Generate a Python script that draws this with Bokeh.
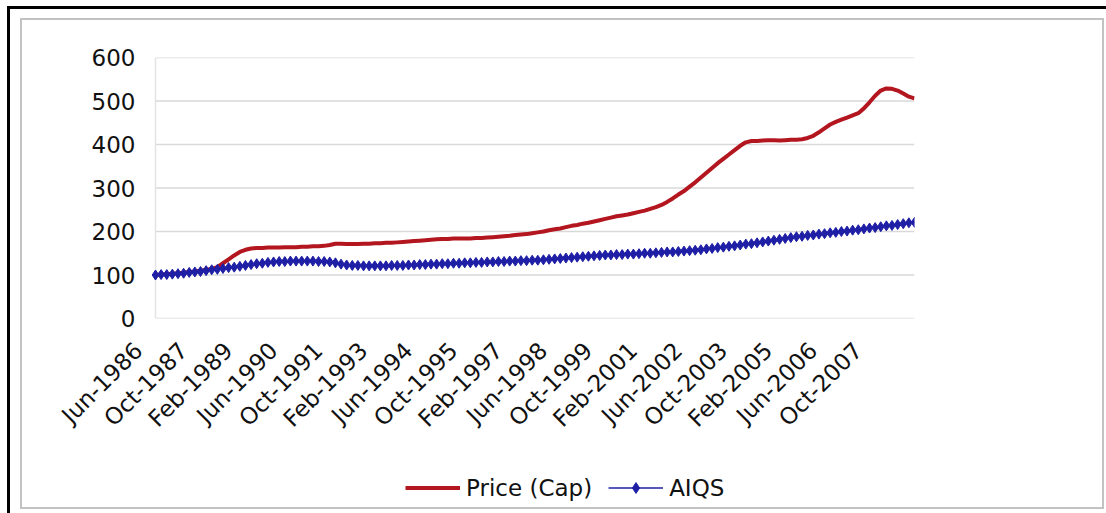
import math

from bokeh.embed import file_html
from bokeh.layouts import column
from bokeh.models import FixedTicker, Legend, LegendItem, LinearAxis, Range1d
from bokeh.plotting import figure
from bokeh.resources import INLINE

# Bi-monthly index values, Jun-1986 = 100, through Dec-2008
tick_labels = ["Jun-1986", "Oct-1987", "Feb-1989", "Jun-1990", "Oct-1991",
               "Feb-1993", "Jun-1994", "Oct-1995", "Feb-1997", "Jun-1998",
               "Oct-1999", "Feb-2001", "Jun-2002", "Oct-2003", "Feb-2005",
               "Jun-2006", "Oct-2007"]
label_every = 8  # one label per 16 months

price_cap = [
    100, 101, 102, 103, 104, 105, 107, 108, 110, 112,
    114, 118, 127, 136, 145, 153, 158, 161, 162, 162,
    163, 163, 163, 164, 164, 164, 165, 165, 166, 166,
    167, 169, 172, 172, 171, 171, 171, 172, 172, 173,
    173, 174, 174, 175, 176, 177, 178, 179, 180, 181,
    182, 183, 183, 184, 184, 184, 184, 185, 185, 186,
    187, 188, 189, 190, 192, 193, 194, 196, 198, 200,
    203, 205, 207, 210, 213, 215, 218, 220, 223, 226,
    229, 232, 235, 237, 239, 242, 245, 248, 252, 256,
    261, 268, 276, 285, 293, 303, 313, 324, 335, 346,
    357, 367, 377, 387, 397, 405, 408, 408, 409, 410,
    410, 409, 410, 411, 411, 412, 415, 420, 428, 437,
    446, 452, 457, 462, 467, 472, 483, 497, 512, 524,
    529, 528, 524, 517, 510, 506,
]

aiqs = [
    100, 101, 101, 102, 103, 104, 106, 107, 108, 110,
    112, 113, 115, 117, 118, 120, 122, 124, 126, 127,
    129, 130, 131, 131, 132, 132, 132, 132, 132, 131,
    131, 130, 128, 125, 123, 122, 122, 121, 121, 121,
    121, 121, 122, 122, 122, 123, 123, 124, 124, 125,
    125, 126, 126, 127, 127, 128, 128, 129, 129, 130,
    130, 131, 131, 132, 132, 133, 133, 134, 134, 135,
    136, 137, 138, 139, 140, 141, 142, 143, 144, 145,
    146, 146, 147, 147, 148, 148, 149, 150, 150, 151,
    152, 153, 153, 154, 155, 156, 157, 158, 160, 161,
    163, 164, 166, 167, 169, 171, 172, 174, 176, 178,
    180, 182, 184, 186, 188, 189, 191, 192, 194, 195,
    197, 198, 200, 201, 203, 204, 206, 208, 209, 211,
    213, 214, 216, 218, 220, 221,
]

y_ticks = [0, 100, 200, 300, 400, 500, 600]

RED = "#b3161f"
BLUE = "#1f1fa6"
GRID = "#d9d9d9"
TEXT = "#111111"
FONT = "DejaVu Sans"
FONT_SIZE = "23px"

periods = list(range(len(price_cap)))
last = periods[-1]

# plot-area geometry (px); the frame starts a little left of the first
# period so the rotated category labels can end short of their period
DATA_LEFT, FRAME_RIGHT, FRAME_TOP, FRAME_BOTTOM = 155, 914, 57, 318
LABEL_SHIFT = 17
FRAME_LEFT = DATA_LEFT - LABEL_SHIFT
VALUE_LABEL_RIGHT = 135
CHART_W, CHART_H, LEGEND_H = 1106, 458, 55
LEGEND_LEFT = 405

px_per_period = (FRAME_RIGHT - DATA_LEFT) / last
lead = LABEL_SHIFT / px_per_period

p = figure(
    width=CHART_W, height=CHART_H,
    x_range=Range1d(-lead, last), y_range=Range1d(y_ticks[0], y_ticks[-1]),
    x_axis_location=None,
    min_border_left=FRAME_LEFT, min_border_right=CHART_W - FRAME_RIGHT,
    min_border_top=FRAME_TOP, min_border_bottom=CHART_H - FRAME_BOTTOM,
    background_fill_color="white", border_fill_color=None,
    outline_line_color=None,
    output_backend="svg", toolbar_location=None,
)

p.extra_x_ranges = {"labels": Range1d(0, last + lead)}
xaxis = LinearAxis(
    x_range_name="labels",
    ticker=FixedTicker(ticks=[i * label_every for i in range(len(tick_labels))]),
    major_label_overrides={i * label_every: t for i, t in enumerate(tick_labels)},
    major_label_orientation=math.pi / 4,
    axis_line_color=None, major_tick_line_color=None, minor_tick_line_color=None,
    major_tick_out=0, major_tick_in=0,
    major_label_text_font=FONT, major_label_text_font_size=FONT_SIZE,
    major_label_text_color=TEXT, major_label_standoff=28,
)
p.add_layout(xaxis, "below")

p.yaxis.ticker = FixedTicker(ticks=y_ticks)
p.yaxis.axis_line_color = None
p.yaxis.major_tick_line_color = None
p.yaxis.major_tick_out = 0
p.yaxis.major_tick_in = 0
p.yaxis.minor_tick_line_color = None
p.yaxis.major_label_standoff = FRAME_LEFT - VALUE_LABEL_RIGHT
p.yaxis.major_label_text_font = FONT
p.yaxis.major_label_text_font_size = FONT_SIZE
p.yaxis.major_label_text_color = TEXT

# horizontal gridlines and the value axis line span the periods only
p.xgrid.visible = False
p.ygrid.visible = False
p.segment(x0=periods[0], x1=last, y0=y_ticks, y1=y_ticks,
          line_color=GRID, line_width=1.5)
p.segment(x0=periods[0], x1=periods[0], y0=y_ticks[0], y1=y_ticks[-1],
          line_color="#e4e4e4", line_width=1.5)

p.line(periods, price_cap, line_color=RED, line_width=4)
p.line(periods, aiqs, line_color=BLUE, line_width=2)
p.scatter(periods, aiqs, marker="diamond", size=10,
          fill_color=BLUE, line_color=BLUE)

# legend strip under the chart; its series sit outside its visible range
lg = figure(
    width=CHART_W, height=LEGEND_H,
    x_range=Range1d(0, last), y_range=Range1d(-2, -1),
    x_axis_location=None, y_axis_location=None,
    min_border=0, min_border_left=0, min_border_right=0,
    min_border_top=0, min_border_bottom=0,
    background_fill_color=None, border_fill_color=None,
    outline_line_color=None,
    output_backend="svg", toolbar_location=None,
)
lg.xgrid.visible = False
lg.ygrid.visible = False
price_key = lg.line(periods, price_cap, line_color=RED, line_width=4)
aiqs_key_line = lg.line(periods, aiqs, line_color=BLUE, line_width=1.5)
aiqs_key_pts = lg.scatter(periods, aiqs, marker="diamond", size=8,
                          fill_color=BLUE, line_color=BLUE)

# the column lines this strip's frame up with the chart's frame
legend = Legend(
    items=[LegendItem(label="Price (Cap)", renderers=[price_key]),
           LegendItem(label="AIQS", renderers=[aiqs_key_line, aiqs_key_pts])],
    orientation="horizontal", location=(LEGEND_LEFT - FRAME_LEFT, 12),
    glyph_width=55, glyph_height=27, label_standoff=6, spacing=16,
    padding=0, margin=0, border_line_color=None, background_fill_alpha=0,
    label_text_font=FONT, label_text_font_size=FONT_SIZE,
    label_text_color=TEXT,
)
lg.add_layout(legend)

# black page frame (left and top) and the grey chart-area border
frame_css = ", ".join([
    "linear-gradient(#000,#000) 7px 6px / 3px 600px no-repeat",
    "linear-gradient(#000,#000) 7px 6px / 1200px 3px no-repeat",
    "linear-gradient(#c2c2c2,#c2c2c2) 20px 18px / 1084px 2px no-repeat",
    "linear-gradient(#c2c2c2,#c2c2c2) 20px 507px / 1084px 2px no-repeat",
    "linear-gradient(#c2c2c2,#c2c2c2) 20px 18px / 2px 491px no-repeat",
    "linear-gradient(#c2c2c2,#c2c2c2) 1102px 18px / 2px 491px no-repeat",
])
page = column(p, lg, spacing=0,
              styles={"background": frame_css, "background-color": "white"})

open("out.html", "w").write(file_html(page, INLINE))
